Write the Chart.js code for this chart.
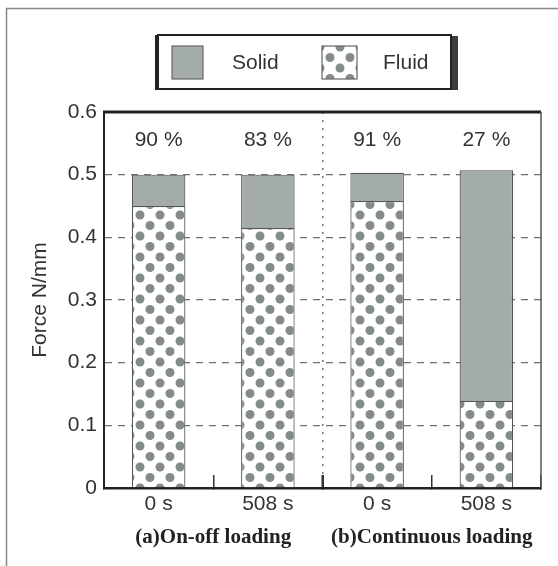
<!DOCTYPE html>
<html>
<head>
<meta charset="utf-8">
<script src="https://cdn.jsdelivr.net/npm/chart.js@4"></script>
<style>
html, body { margin: 0; padding: 0; background: #fff; }
</style>
</head>
<body>
<canvas id="forceChart" width="558" height="566"></canvas>
<script>
const timeLabels = ["0 s", "508 s", "0 s", "508 s"];
const groupLabels = ["(a)On-off loading", "(b)Continuous loading"];
const fluidForce = [0.450, 0.415, 0.458, 0.139];
const solidForce = [0.050, 0.085, 0.045, 0.368];
const fluidShare = ["90 %", "83 %", "91 %", "27 %"];
const legendNames = ["Solid", "Fluid"];

const solidColor = "#a3acaa";
const dotColor = "#848b8b";
const textColor = "#333";
const sans = "Arial, 'Liberation Sans', sans-serif";

function makeDots() {
    const tile = document.createElement("canvas");
    tile.width = 20;
    tile.height = 21;
    const c = tile.getContext("2d");
    c.fillStyle = "#fff";
    c.fillRect(0, 0, 20, 21);
    c.fillStyle = dotColor;
    for (const [x, y] of [[0, 5], [20, 5], [10, 15.5]]) {
        c.beginPath();
        c.arc(x, y, 4.5, 0, Math.PI * 2);
        c.fill();
    }
    return c.createPattern(tile, "repeat");
}
const dots = makeDots();

// frame, legend, plot border and the share labels
const decor = {
    id: "decor",
    beforeDraw(chart) {
        const ctx = chart.ctx;
        ctx.save();
        ctx.strokeStyle = "#888";
        ctx.lineWidth = 1.5;
        ctx.beginPath();
        ctx.moveTo(6.5, 566);
        ctx.lineTo(6.5, 8.5);
        ctx.lineTo(558, 8.5);
        ctx.stroke();

        ctx.fillStyle = "#3c3c3c";
        ctx.fillRect(451, 36, 7, 54);
        ctx.fillStyle = "#222";
        ctx.fillRect(155, 35, 4, 55);
        ctx.strokeStyle = "#222";
        ctx.lineWidth = 2;
        ctx.strokeRect(158, 35, 293, 54);

        ctx.lineWidth = 1.2;
        ctx.strokeStyle = "#666";
        ctx.fillStyle = solidColor;
        ctx.fillRect(172, 46, 31, 33);
        ctx.strokeRect(172, 46, 31, 33);
        ctx.fillStyle = dots;
        ctx.fillRect(322, 46, 35, 33);
        ctx.strokeRect(322, 46, 35, 33);

        ctx.fillStyle = textColor;
        ctx.font = "21px " + sans;
        ctx.textBaseline = "middle";
        ctx.fillText(legendNames[0], 232, 63);
        ctx.fillText(legendNames[1], 383, 63);
        ctx.restore();
    },
    afterDatasetsDraw(chart) {
        const ctx = chart.ctx;
        const a = chart.chartArea;
        const xs = chart.scales.x;
        const ys = chart.scales.y;
        ctx.save();
        ctx.strokeStyle = "#222";
        ctx.lineWidth = 3;
        ctx.beginPath();
        ctx.moveTo(a.left - 1, a.top);
        ctx.lineTo(a.right, a.top);
        ctx.stroke();
        ctx.strokeStyle = "#555";
        ctx.lineWidth = 1.5;
        ctx.beginPath();
        ctx.moveTo(a.right, a.top);
        ctx.lineTo(a.right, a.bottom);
        ctx.stroke();

        ctx.fillStyle = textColor;
        ctx.font = "21px " + sans;
        ctx.textAlign = "center";
        ctx.textBaseline = "middle";
        fluidShare.forEach((t, i) => {
            ctx.fillText(t, xs.getPixelForValue(i), ys.getPixelForValue(0.555));
        });
        ctx.restore();
    }
};

new Chart(document.getElementById("forceChart"), {
    type: "bar",
    data: {
        labels: timeLabels,
        datasets: [
            {
                label: legendNames[1],
                data: fluidForce,
                backgroundColor: dots,
                borderColor: "#555",
                borderWidth: 1.2
            },
            {
                label: legendNames[0],
                data: solidForce,
                backgroundColor: solidColor,
                borderColor: "#555",
                borderWidth: 1.2
            }
        ]
    },
    options: {
        responsive: false,
        animation: false,
        layout: { padding: { left: 0, top: 112, right: 17, bottom: 12 } },
        datasets: { bar: { barPercentage: 0.49, categoryPercentage: 1 } },
        plugins: {
            legend: { display: false },
            tooltip: { enabled: false }
        },
        scales: {
            x: {
                stacked: true,
                weight: 0,
                afterFit: s => { s.height = 30; },
                grid: {
                    offset: true,
                    color: c => c.index === 2 ? "#777" : "transparent",
                    lineWidth: 1.5,
                    tickLength: -13,
                    tickColor: "#333",
                    tickWidth: c => c.index === 2 ? 2.5 : 1.5,
                    tickBorderDash: []
                },
                border: { color: "#222", width: 2.5, dash: [2, 6] },
                ticks: {
                    color: textColor,
                    font: { family: sans, size: 21 },
                    padding: 17,
                    maxRotation: 0,
                    autoSkip: false
                }
            },
            x2: {
                type: "category",
                position: "bottom",
                labels: groupLabels,
                offset: true,
                weight: 1,
                afterFit: s => { s.height = 36; },
                grid: { display: false },
                border: { display: false },
                ticks: {
                    color: "#222",
                    font: { family: "'Liberation Serif', 'Times New Roman', serif", size: 21, weight: "bold" },
                    padding: -1,
                    maxRotation: 0,
                    autoSkip: false
                }
            },
            y: {
                stacked: true,
                min: 0,
                max: 0.6,
                afterFit: s => { s.width = 104; },
                ticks: {
                    stepSize: 0.1,
                    color: textColor,
                    font: { family: sans, size: 21 },
                    padding: 7
                },
                grid: {
                    drawTicks: false,
                    lineWidth: 1.3,
                    color: c => (Math.abs(c.tick.value) < 1e-6 || Math.abs(c.tick.value - 0.6) < 1e-6) ? "transparent" : "#707070"
                },
                border: { color: "#222", width: 2, dash: [7, 6] },
                title: {
                    display: true,
                    text: "Force N/mm",
                    color: textColor,
                    font: { family: sans, size: 21 },
                    padding: { top: 28, bottom: 0 }
                }
            }
        }
    },
    plugins: [decor]
});
</script>
</body>
</html>
